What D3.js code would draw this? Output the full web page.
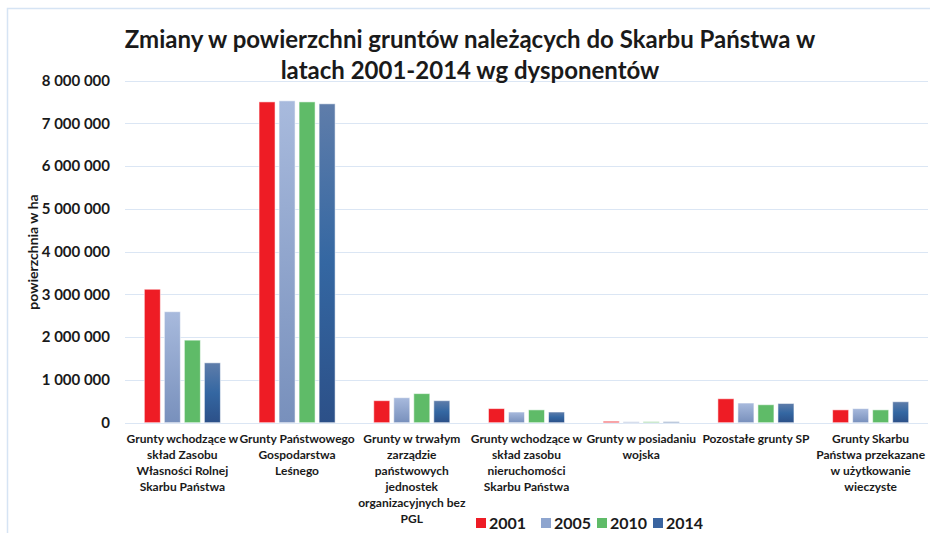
<!DOCTYPE html>
<html>
<head>
<meta charset="utf-8">
<script src="https://cdn.jsdelivr.net/npm/d3@7"></script>
<style>
  body { margin: 0; background: #fff; }
  svg text { font-family: Lato, "Open Sans", sans-serif; font-weight: bold; fill: #1a1a1a; }
</style>
</head>
<body>
<div id="chart"></div>
<script>
// data (ha)
var categories = [
    ["Grunty wchodzące w", "skład Zasobu", "Własności Rolnej", "Skarbu Państwa"],
    ["Grunty Państwowego", "Gospodarstwa", "Leśnego"],
    ["Grunty w trwałym", "zarządzie", "państwowych", "jednostek", "organizacyjnych bez", "PGL"],
    ["Grunty wchodzące w", "skład zasobu", "nieruchomości", "Skarbu Państwa"],
    ["Grunty w posiadaniu", "wojska"],
    ["Pozostałe grunty SP"],
    ["Grunty Skarbu", "Państwa przekazane", "w użytkowanie", "wieczyste"]
];
var years = ["2001", "2005", "2010", "2014"];
var v2001 = [3120000, 7500000, 515000, 330000, 33000, 560000, 300000];
var v2005 = [2595000, 7525000, 585000, 250000, 23000, 460000, 330000];
var v2010 = [1930000, 7500000, 680000, 300000, 23000, 420000, 300000];
var v2014 = [1400000, 7455000, 515000, 250000, 23000, 450000, 490000];
var yTicks = [0, 1000000, 2000000, 3000000, 4000000, 5000000, 6000000, 7000000, 8000000];
var title = ["Zmiany w powierzchni gruntów należących do Skarbu Państwa w", "latach 2001-2014 wg dysponentów"];
var yTitle = "powierzchnia w ha";

var series = [v2001, v2005, v2010, v2014];
var fills = ["#ee1c25", "url(#gLight)", "#5fbb68", "url(#gDark)"];
var legendFills = ["#ee1c25", "#8ea5cf", "#5fbb68", "#3a64a0"];

var width = 930, height = 533;
var plotLeft = 125, plotRight = 928, plotTop = 80.5, plotBottom = 422.7;

var svg = d3.select("#chart").append("svg").attr("width", width).attr("height", height);

var defs = svg.append("defs");
var gl = defs.append("linearGradient").attr("id", "gLight").attr("x1", 0).attr("y1", 0).attr("x2", 0).attr("y2", 1);
gl.append("stop").attr("offset", "0%").attr("stop-color", "#a8badd");
gl.append("stop").attr("offset", "100%").attr("stop-color", "#7890bc");
var gd = defs.append("linearGradient").attr("id", "gDark").attr("x1", 0).attr("y1", 0).attr("x2", 0).attr("y2", 1);
gd.append("stop").attr("offset", "0%").attr("stop-color", "#5f7daa");
gd.append("stop").attr("offset", "50%").attr("stop-color", "#3467a2");
gd.append("stop").attr("offset", "100%").attr("stop-color", "#2c5088");

// frame
svg.append("path").attr("d", "M7.5,533 L7.5,8.5 L930,8.5")
    .attr("fill", "none").attr("stroke", "#d6e4f4").attr("stroke-width", 1.5);

var y = d3.scaleLinear().domain([0, 8000000]).range([plotBottom, plotTop]);
var x0 = d3.scaleBand().domain(d3.range(categories.length)).range([plotLeft, plotRight]).paddingInner(0.302).paddingOuter(0.151);
var x1 = d3.scaleBand().domain(years).range([0, x0.bandwidth()]).paddingInner(0.2).paddingOuter(0.1);

var fmt = d3.formatLocale({decimal: ",", thousands: " ", grouping: [3], currency: ["", ""]}).format(",");

// gridlines
svg.append("g").selectAll("line").data(yTicks).enter().append("line")
    .attr("x1", plotLeft).attr("x2", plotRight)
    .attr("y1", function(d){ return Math.round(y(d)) + 0.5; })
    .attr("y2", function(d){ return Math.round(y(d)) + 0.5; })
    .attr("stroke", "#dbe6f4").attr("stroke-width", 1.2);

var yAxis = d3.axisLeft(y).tickValues(yTicks).tickFormat(fmt).tickSize(0).tickPadding(15);
var yg = svg.append("g").attr("transform", "translate(" + plotLeft + ",0)").call(yAxis);
yg.select(".domain").remove();
yg.selectAll("text").attr("font-size", 15).attr("font-family", null).style("fill", "#1a1a1a");

// bars
var groups = svg.append("g").selectAll("g").data(categories).enter().append("g")
    .attr("transform", function(d, i){ return "translate(" + x0(i) + ",0)"; });

groups.selectAll("rect").data(function(d, i){
        return years.map(function(yr, k){ return {year: yr, k: k, value: series[k][i]}; });
    })
    .enter().append("rect")
    .attr("x", function(d){ return x1(d.year); })
    .attr("width", x1.bandwidth())
    .attr("y", function(d){ return y(d.value); })
    .attr("height", function(d){ return y(0) - y(d.value); })
    .attr("fill", function(d){ return fills[d.k]; })
    .attr("stroke", "rgba(255,255,255,0.55)").attr("stroke-width", 1);

// category labels
groups.append("text")
    .attr("x", x0.bandwidth() / 2)
    .attr("text-anchor", "middle")
    .attr("font-size", 12)
    .selectAll("tspan").data(function(d){ return d; }).enter().append("tspan")
    .attr("x", x0.bandwidth() / 2)
    .attr("y", function(d, i){ return 442.5 + i * 16; })
    .text(function(d){ return d; });

// title
svg.append("text").attr("text-anchor", "middle").attr("font-size", 24)
    .selectAll("tspan").data(title).enter().append("tspan")
    .attr("x", 470).attr("y", function(d, i){ return 48 + i * 31; })
    .text(function(d){ return d; });

// y title
svg.append("text")
    .attr("transform", "translate(38,252) rotate(-90)")
    .attr("text-anchor", "middle").attr("font-size", 14)
    .text(yTitle);

// legend
var legX = [476, 541, 597, 653];
var leg = svg.append("g").selectAll("g").data(years).enter().append("g")
    .attr("transform", function(d, i){ return "translate(" + legX[i] + ",518)"; });
leg.append("rect").attr("width", 10).attr("height", 10)
    .attr("fill", function(d, i){ return legendFills[i]; });
leg.append("text").attr("x", 13).attr("y", 10.5).attr("font-size", 16).text(function(d){ return d; });
</script>
</body>
</html>
